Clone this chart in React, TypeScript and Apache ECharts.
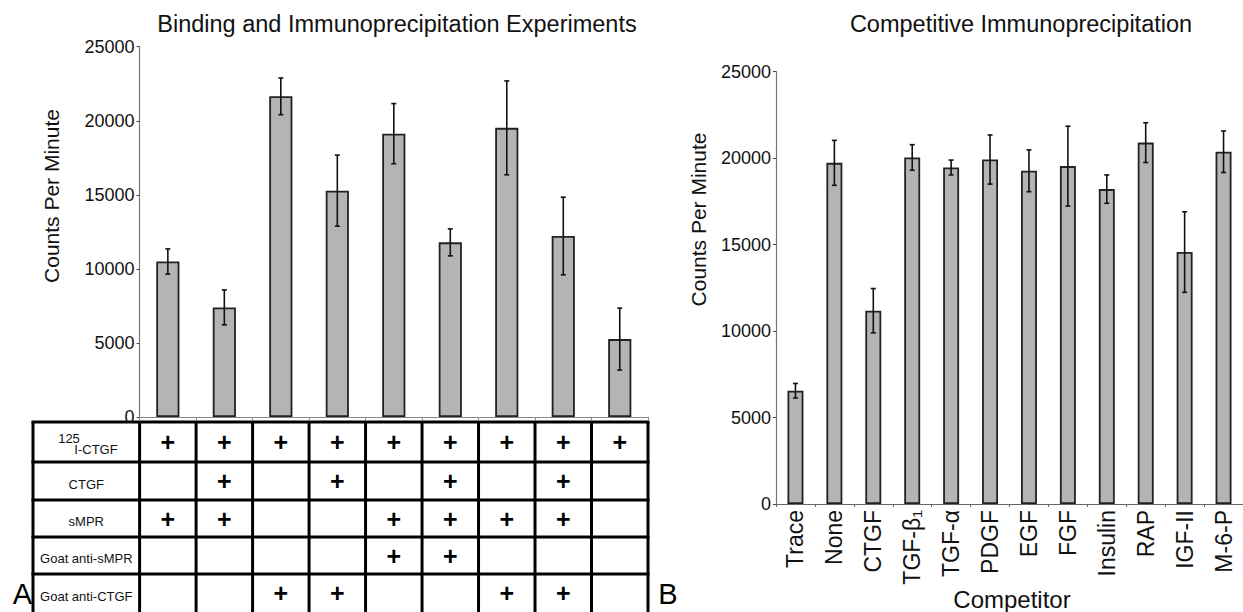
import React, { useEffect, useRef } from 'react';
import * as echarts from 'echarts';

const FONT = 'Arial, Liberation Sans, Helvetica, sans-serif';

// ---- Panel A data ----
const bindingLanes = ['1', '2', '3', '4', '5', '6', '7', '8', '9'];
const bindingMeans = [10500, 7400, 21650, 15280, 19130, 11790, 19520, 12220, 5260];
const bindingErrors = [850, 1180, 1240, 2400, 2030, 910, 3170, 2620, 2090];

const tableRowLabels = ['I-CTGF', 'CTGF', 'sMPR', 'Goat anti-sMPR', 'Goat anti-CTGF'];
const row125ICTGF = [1, 1, 1, 1, 1, 1, 1, 1, 1];
const rowCTGF = [0, 1, 0, 1, 0, 1, 0, 1, 0];
const rowSMPR = [1, 1, 0, 0, 1, 1, 1, 1, 0];
const rowGoatAntiSMPR = [0, 0, 0, 0, 1, 1, 0, 0, 0];
const rowGoatAntiCTGF = [0, 0, 1, 1, 0, 0, 1, 1, 0];

// ---- Panel B data ----
const competitors = ['Trace', 'None', 'CTGF', 'TGF-β₁', 'TGF-α', 'PDGF', 'EGF', 'FGF', 'Insulin', 'RAP', 'IGF-II', 'M-6-P'];
const competitiveMeans = [6550, 19730, 11180, 20040, 19460, 19920, 19270, 19540, 18210, 20900, 14570, 20370];
const competitiveErrors = [420, 1300, 1280, 740, 430, 1420, 1210, 2310, 820, 1150, 2330, 1200];

const yMin = 0;
const yMax = 25000;
const yStep = 5000;

export default function App() {
  const ref = useRef<HTMLDivElement>(null);

  useEffect(() => {
    if (!ref.current) return;
    const chart = echarts.init(ref.current, undefined, { renderer: 'svg' });

    const errRender = (params: any, api: any) => {
      const x = api.value(0);
      const lo = api.value(1);
      const hi = api.value(2);
      const pHi = api.coord([x, hi]);
      const pLo = api.coord([x, lo]);
      const cap = 2.5;
      const style = { stroke: '#111', lineWidth: 1.6 };
      return {
        type: 'group',
        children: [
          { type: 'line', shape: { x1: pHi[0], y1: pHi[1], x2: pLo[0], y2: pLo[1] }, style },
          { type: 'line', shape: { x1: pHi[0] - cap, y1: pHi[1], x2: pHi[0] + cap, y2: pHi[1] }, style },
          { type: 'line', shape: { x1: pLo[0] - cap, y1: pLo[1], x2: pLo[0] + cap, y2: pLo[1] }, style },
        ],
      };
    };

    const yAxisCommon = {
      type: 'value',
      min: yMin,
      max: yMax,
      interval: yStep,
      splitLine: { show: false },
      axisLine: { show: true, lineStyle: { color: '#777', width: 1.2 } },
      axisTick: { show: true, length: 3, lineStyle: { color: '#444' } },
      axisLabel: { fontFamily: FONT, fontSize: 18, color: '#111', margin: 5, formatter: (v: number) => String(v) },
    };

    chart.setOption({
      animation: false,
      backgroundColor: '#fff',
      textStyle: { fontFamily: FONT },
      grid: [
        { left: 139.6, right: 595, top: 46.7, bottom: 195 },
        { left: 776, right: 0, top: 71.7, bottom: 108 },
      ],
      xAxis: [
        {
          type: 'category',
          gridIndex: 0,
          data: bindingLanes,
          axisLine: { lineStyle: { color: '#888', width: 1.2 } },
          axisTick: { show: true, length: 3, lineStyle: { color: '#888' } },
          axisLabel: { show: false },
        },
        {
          type: 'category',
          gridIndex: 1,
          data: competitors,
          axisLine: { lineStyle: { color: '#666', width: 1.2 } },
          axisTick: { show: true, length: 3, lineStyle: { color: '#666' } },
          axisLabel: { interval: 0, rotate: 90, fontFamily: FONT, fontSize: 23, color: '#111', margin: 6 },
        },
      ],
      yAxis: [
        { ...yAxisCommon, gridIndex: 0 },
        { ...yAxisCommon, gridIndex: 1 },
      ],
      series: [
        {
          type: 'bar',
          xAxisIndex: 0,
          yAxisIndex: 0,
          data: bindingMeans,
          barWidth: '41%',
          itemStyle: { color: '#b4b4b4', borderColor: '#222', borderWidth: 1.8 },
        },
        {
          type: 'custom',
          xAxisIndex: 0,
          yAxisIndex: 0,
          z: 5,
          renderItem: errRender,
          encode: { x: 0, y: [1, 2] },
          data: bindingMeans.map((m, i) => [i, m - bindingErrors[i], m + bindingErrors[i]]),
        },
        {
          type: 'bar',
          xAxisIndex: 1,
          yAxisIndex: 1,
          data: competitiveMeans,
          barWidth: '41%',
          itemStyle: { color: '#b4b4b4', borderColor: '#222', borderWidth: 1.8 },
        },
        {
          type: 'custom',
          xAxisIndex: 1,
          yAxisIndex: 1,
          z: 5,
          renderItem: errRender,
          encode: { x: 0, y: [1, 2] },
          data: competitiveMeans.map((m, i) => [i, m - competitiveErrors[i], m + competitiveErrors[i]]),
        },
      ],
    });

    // ---- Table beneath panel A, aligned with the category axis ----
    const centers = bindingLanes.map((_, i) => chart.convertToPixel({ xAxisIndex: 0 }, i) as number);
    const colW = centers.length > 1 ? centers[1] - centers[0] : 56.5;
    const firstBoundary = centers[0] - colW / 2;
    const lastBoundary = centers[centers.length - 1] + colW / 2;
    const tableLeft = 33;
    const rowYs = [422, 462, 500, 537, 574, 612];
    const rows = [row125ICTGF, rowCTGF, rowSMPR, rowGoatAntiSMPR, rowGoatAntiCTGF];
    const lineStyle = { stroke: '#000', lineWidth: 3 };

    const g: any[] = [];
    rowYs.slice(0, 5).forEach((y) => {
      g.push({ type: 'line', shape: { x1: tableLeft - 1.5, y1: y, x2: lastBoundary + 1.5, y2: y }, style: lineStyle });
    });
    const vx = [tableLeft, firstBoundary, ...centers.map((c) => c + colW / 2)];
    vx.forEach((x) => {
      g.push({ type: 'line', shape: { x1: x, y1: rowYs[0], x2: x, y2: 614 }, style: lineStyle });
    });
    const labelX = (tableLeft + firstBoundary) / 2;
    rows.forEach((row, r) => {
      const cy = (rowYs[r] + rowYs[r + 1]) / 2;
      if (r === 0) {
        g.push({ type: 'text', x: 69, y: 438, style: { text: '125', fontFamily: FONT, fontSize: 13, fill: '#111', align: 'center', verticalAlign: 'middle' } });
        g.push({ type: 'text', x: 96, y: 449.5, style: { text: tableRowLabels[0], fontFamily: FONT, fontSize: 13, fill: '#111', align: 'center', verticalAlign: 'middle' } });
      } else {
        g.push({ type: 'text', x: labelX, y: cy + 3, style: { text: tableRowLabels[r], fontFamily: FONT, fontSize: 13, fill: '#111', align: 'center', verticalAlign: 'middle' } });
      }
      row.forEach((v, c) => {
        if (v) {
          g.push({ type: 'text', x: centers[c], y: cy, style: { text: '+', fontFamily: FONT, fontSize: 25, fontWeight: 'bold', fill: '#000', align: 'center', verticalAlign: 'middle' } });
        }
      });
    });

    g.push({ type: 'text', x: 397, y: 24, style: { text: 'Binding and Immunoprecipitation Experiments', fontFamily: FONT, fontSize: 23.5, fill: '#111', align: 'center', verticalAlign: 'middle' } });
    g.push({ type: 'text', x: 1021, y: 24, style: { text: 'Competitive Immunoprecipitation', fontFamily: FONT, fontSize: 23.5, fill: '#111', align: 'center', verticalAlign: 'middle' } });
    g.push({ type: 'text', x: 51, y: 196, rotation: Math.PI / 2, style: { text: 'Counts Per Minute', fontFamily: FONT, fontSize: 21, fill: '#111', align: 'center', verticalAlign: 'middle' } });
    g.push({ type: 'text', x: 698, y: 219.5, rotation: Math.PI / 2, style: { text: 'Counts Per Minute', fontFamily: FONT, fontSize: 21, fill: '#111', align: 'center', verticalAlign: 'middle' } });
    g.push({ type: 'text', x: 1012, y: 599, style: { text: 'Competitor', fontFamily: FONT, fontSize: 24, fill: '#111', align: 'center', verticalAlign: 'middle' } });
    g.push({ type: 'text', x: 22.5, y: 594, style: { text: 'A', fontFamily: FONT, fontSize: 29, fill: '#000', align: 'center', verticalAlign: 'middle' } });
    g.push({ type: 'text', x: 668, y: 594, style: { text: 'B', fontFamily: FONT, fontSize: 29, fill: '#000', align: 'center', verticalAlign: 'middle' } });

    chart.setOption({ graphic: g });

    return () => {
      chart.dispose();
    };
  }, []);

  return (
    <div
      ref={ref}
      style={{ position: 'fixed', left: 0, top: 0, width: 1243, height: 612, background: '#fff' }}
    />
  );
}
